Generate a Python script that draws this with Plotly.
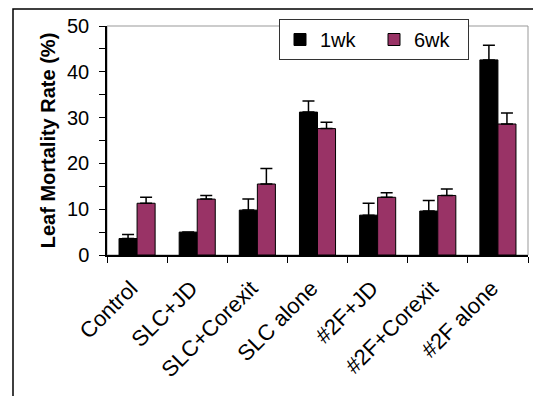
import plotly.graph_objects as go

categories = ["Control", "SLC+JD", "SLC+Corexit", "SLC alone", "#2F+JD", "#2F+Corexit", "#2F alone"]
wk1 = [3.6, 5.0, 9.8, 31.2, 8.7, 9.6, 42.6]
wk1_err = [0.9, 0.0, 2.4, 2.4, 2.6, 2.3, 3.2]
wk6 = [11.3, 12.2, 15.5, 27.6, 12.6, 13.0, 28.6]
wk6_err = [1.3, 0.8, 3.4, 1.4, 1.0, 1.4, 2.4]

W, H = 533, 396
L, R, T, B = 107, 5, 26, 141
pw, ph = W - L - R, H - T - B

def px_x(x):
    return (x - L) / pw

def px_y(y):
    return (H - B - y) / ph

fig = go.Figure()
fig.add_trace(go.Bar(
    name="1wk", x=categories, y=wk1,
    marker=dict(color="#000000", line=dict(color="#000000", width=1)),
    error_y=dict(type="data", symmetric=False, array=wk1_err, arrayminus=[0] * 7,
                 color="#000000", thickness=1.5, width=6),
))
fig.add_trace(go.Bar(
    name="6wk", x=categories, y=wk6,
    marker=dict(color="#993366", line=dict(color="#000000", width=1)),
    error_y=dict(type="data", symmetric=False, array=wk6_err, arrayminus=[0] * 7,
                 color="#000000", thickness=1.5, width=6),
))

font = "Liberation Sans, Arial, sans-serif"

fig.update_layout(
    width=W, height=H,
    margin=dict(l=L, r=R, t=T, b=B),
    paper_bgcolor="white", plot_bgcolor="white",
    font=dict(family=font, size=20, color="#000000"),
    barmode="group", bargap=0.4, bargroupgap=0,
    showlegend=True,
    legend=dict(
        orientation="h", x=px_x(279), y=px_y(19), xanchor="left", yanchor="top",
        bgcolor="white", bordercolor="#333333", borderwidth=1,
        font=dict(family=font, size=20), entrywidth=49, entrywidthmode="pixels",
        itemwidth=30, traceorder="normal",
    ),
    xaxis=dict(
        showline=True, linecolor="#000000", linewidth=1.5,
        ticks="outside", tickson="boundaries", ticklen=6, tickcolor="#000000", tickwidth=1,
        tickangle=-45, tickfont=dict(size=22), showgrid=False,
        ticklabelstandoff=10, ticklabelshift=-6,
    ),
    yaxis=dict(
        range=[0, 50], dtick=10, showline=True, linecolor="#000000", linewidth=1.5,
        ticks="outside", ticklen=6, tickcolor="#000000", tickwidth=1,
        minor=dict(dtick=5, ticks="outside", ticklen=6, tickcolor="#000000", tickwidth=1),
        showgrid=False, zeroline=False, tickfont=dict(size=20), ticklabelstandoff=6,
        title=dict(text="<b>Leaf Mortality Rate (%)</b>", font=dict(size=20), standoff=6),
    ),
    shapes=[
        dict(type="rect", xref="paper", yref="paper", x0=0, y0=0, x1=1, y1=1,
             line=dict(color="#999999", width=1), layer="below"),
        dict(type="rect", xref="paper", yref="paper", x0=px_x(13), y0=px_y(9),
             x1=px_x(545), y1=px_y(410), line=dict(color="#000000", width=1.5), layer="below"),
    ],
)

fig.write_html("out.html")
